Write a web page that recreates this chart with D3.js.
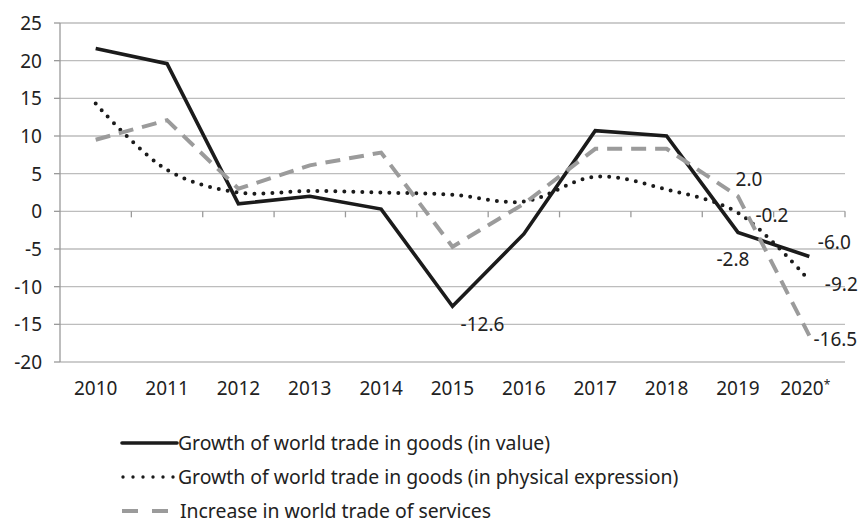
<!DOCTYPE html>
<html lang="en">
<head>
<meta charset="UTF-8">
<script src="https://d3js.org/d3.v7.min.js"></script>
<style>
  body { margin: 0; background: #fff; }
  text { font-family: "Noto Sans", "Open Sans", sans-serif; fill: #222; }
</style>
</head>
<body>
<div id="chart"></div>
<script>
const years = ["2010", "2011", "2012", "2013", "2014", "2015", "2016", "2017", "2018", "2019", "2020*"];
const valueGrowth = [21.6, 19.6, 1.0, 2.0, 0.3, -12.6, -3.0, 10.7, 10.0, -2.8, -6.0];
const physicalGrowth = [14.3, 5.5, 2.5, 2.7, 2.5, 2.2, 1.3, 4.6, 2.9, -0.2, -9.2];
const servicesGrowth = [9.5, 12.1, 3.0, 6.1, 7.8, -4.7, 1.0, 8.3, 8.3, 2.0, -16.5];
const yTicks = [25, 20, 15, 10, 5, 0, -5, -10, -15, -20];
const legendNames = [
  "Growth of world trade in goods (in value)",
  "Growth of world trade in goods (in physical expression)",
  "Increase in world trade of services"
];

const width = 860, height = 525;
const plotLeft = 60, plotRight = 845, plotTop = 23, plotBottom = 362;

const svg = d3.select("#chart").append("svg")
  .attr("width", width).attr("height", height);

const x = d3.scaleBand().domain(years).range([plotLeft, plotRight]);
const y = d3.scaleLinear().domain([-20, 25]).range([plotBottom, plotTop]);

// grid
svg.append("g").selectAll("line").data(yTicks).enter().append("line")
  .attr("x1", plotLeft).attr("x2", plotRight)
  .attr("y1", d => y(d)).attr("y2", d => y(d))
  .attr("stroke", "#bdbdbd").attr("stroke-width", 1.3);

// y axis line, ticks, labels
svg.append("line").attr("x1", plotLeft).attr("x2", plotLeft)
  .attr("y1", plotTop).attr("y2", plotBottom)
  .attr("stroke", "#9a9a9a").attr("stroke-width", 1.3);
svg.append("g").selectAll("line").data(yTicks).enter().append("line")
  .attr("x1", plotLeft - 6).attr("x2", plotLeft)
  .attr("y1", d => y(d)).attr("y2", d => y(d))
  .attr("stroke", "#9a9a9a").attr("stroke-width", 1.3);
svg.append("g").selectAll("text").data(yTicks).enter().append("text")
  .attr("x", 42).attr("y", d => y(d) + 7)
  .attr("text-anchor", "end").attr("font-size", 19)
  .text(d => d);

// category ticks on zero line
const bounds = years.map(d => x(d)).concat([plotRight]);
svg.append("g").selectAll("line").data(bounds.slice(1)).enter().append("line")
  .attr("x1", d => d).attr("x2", d => d)
  .attr("y1", y(0)).attr("y2", y(0) + 6)
  .attr("stroke", "#9a9a9a").attr("stroke-width", 1.3);

// x labels (asterisk as small superscript)
const xl = svg.append("g").selectAll("text").data(years).enter().append("text")
  .attr("x", d => x(d) + x.bandwidth() / 2 - (d.endsWith("*") ? 4 : 0))
  .attr("y", 395).attr("text-anchor", "middle").attr("font-size", 19);
xl.append("tspan").text(d => d.replace("*", ""));
xl.filter(d => d.endsWith("*")).append("tspan")
  .attr("font-size", 12).attr("dy", -6).text("*");

const cx = d => x(d) + x.bandwidth() / 2;

const series = [
  { vals: valueGrowth, stroke: "#1b1b1b", w: 3.6, dash: null, cap: "butt", curve: d3.curveLinear },
  { vals: physicalGrowth, stroke: "#1b1b1b", w: 4, dash: "0,9", cap: "round", curve: d3.curveCatmullRom.alpha(0.5) },
  { vals: servicesGrowth, stroke: "#9b9b9b", w: 4, dash: "15,9", cap: "butt", curve: d3.curveLinear }
];

series.forEach(s => {
  const line = d3.line().x((d, i) => cx(years[i])).y(d => y(d)).curve(s.curve);
  svg.append("path").datum(s.vals)
    .attr("d", line)
    .attr("fill", "none")
    .attr("stroke", s.stroke)
    .attr("stroke-width", s.w)
    .attr("stroke-linecap", s.cap)
    .attr("stroke-linejoin", "miter")
    .attr("stroke-dasharray", s.dash);
});

// data labels (offsets of label centre from the point)
const labels = [
  { v: valueGrowth[5], i: 5, dx: 30, dy: 18 },
  { v: servicesGrowth[9], i: 9, dx: 11, dy: -17 },
  { v: physicalGrowth[9], i: 9, dx: 34, dy: 2 },
  { v: valueGrowth[9], i: 9, dx: -5, dy: 27 },
  { v: valueGrowth[10], i: 10, dx: 25, dy: -15 },
  { v: physicalGrowth[10], i: 10, dx: 32, dy: 3 },
  { v: servicesGrowth[10], i: 10, dx: 26, dy: 3 }
];
svg.append("g").selectAll("text").data(labels).enter().append("text")
  .attr("x", d => cx(years[d.i]) + d.dx)
  .attr("y", d => y(d.v) + d.dy + 7)
  .attr("text-anchor", "middle").attr("font-size", 19)
  .text(d => d.v.toFixed(1));

// legend
const legend = svg.append("g");
const legendY = [443, 477, 511];
series.forEach((s, i) => {
  const ly = legendY[i];
  legend.append("line")
    .attr("x1", i === 1 ? 123 : 122).attr("x2", i === 1 ? 175 : (i === 2 ? 168 : 177))
    .attr("y1", ly).attr("y2", ly)
    .attr("stroke", s.stroke).attr("stroke-width", i === 1 ? 3.4 : s.w)
    .attr("stroke-linecap", i === 0 ? "round" : s.cap)
    .attr("stroke-dasharray", i === 2 ? "16,14" : (i === 1 ? "0,10" : null));
  legend.append("text")
    .attr("x", i === 2 ? 180 : 178).attr("y", ly + 7)
    .attr("font-size", 19.4)
    .text(legendNames[i]);
});
</script>
</body>
</html>
